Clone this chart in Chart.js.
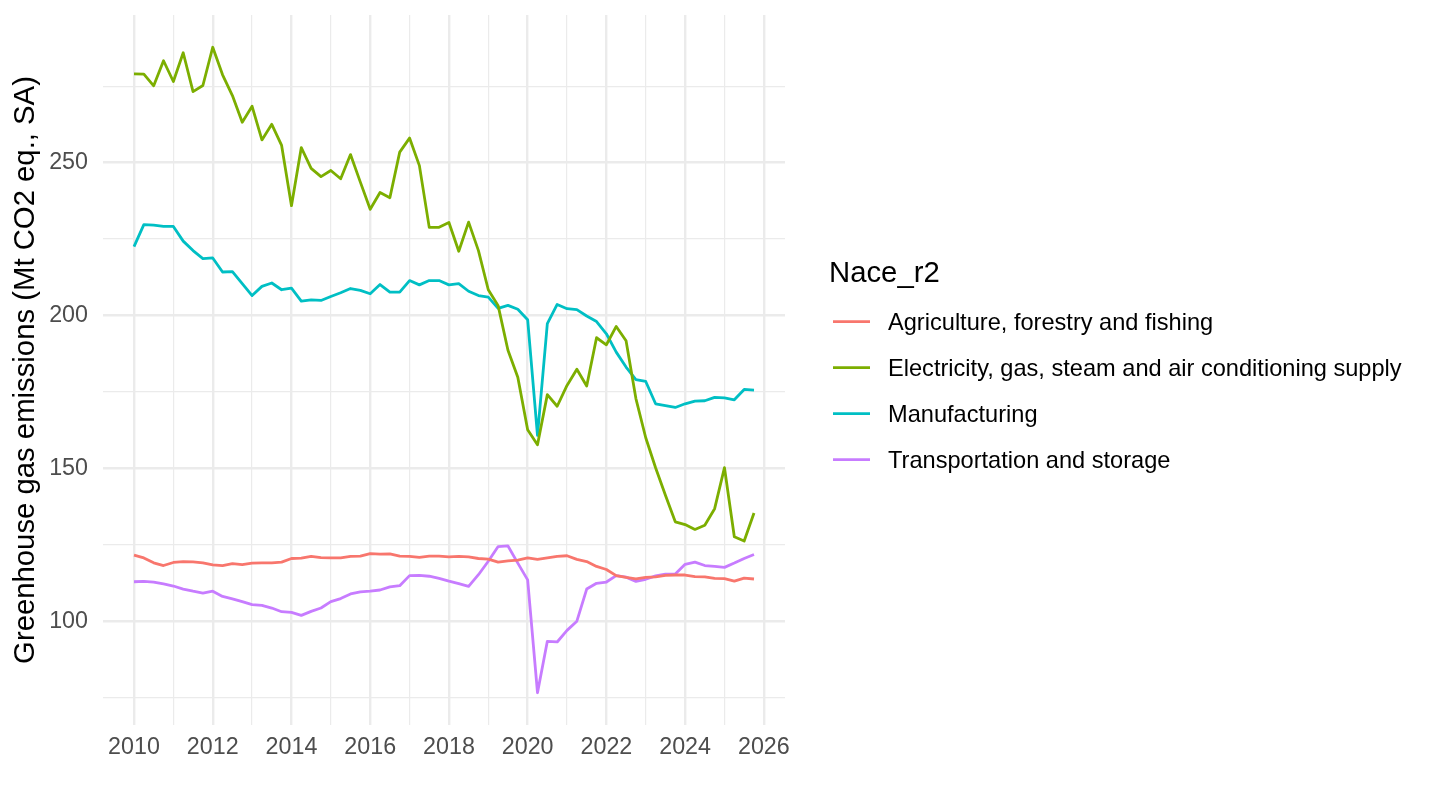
<!DOCTYPE html>
<html>
<head>
<meta charset="utf-8">
<script src="https://cdn.jsdelivr.net/npm/chart.js@4.4.1/dist/chart.umd.min.js"></script>
<style>
html,body{margin:0;padding:0;background:#ffffff;}
canvas{display:block;}
</style>
</head>
<body>
<canvas id="c" width="1440" height="810"></canvas>
<script>
const quarters = [
  "2010Q1","2010Q2","2010Q3","2010Q4","2011Q1","2011Q2","2011Q3","2011Q4",
  "2012Q1","2012Q2","2012Q3","2012Q4","2013Q1","2013Q2","2013Q3","2013Q4",
  "2014Q1","2014Q2","2014Q3","2014Q4","2015Q1","2015Q2","2015Q3","2015Q4",
  "2016Q1","2016Q2","2016Q3","2016Q4","2017Q1","2017Q2","2017Q3","2017Q4",
  "2018Q1","2018Q2","2018Q3","2018Q4","2019Q1","2019Q2","2019Q3","2019Q4",
  "2020Q1","2020Q2","2020Q3","2020Q4","2021Q1","2021Q2","2021Q3","2021Q4",
  "2022Q1","2022Q2","2022Q3","2022Q4","2023Q1","2023Q2","2023Q3","2023Q4",
  "2024Q1","2024Q2","2024Q3","2024Q4","2025Q1","2025Q2","2025Q3","2025Q4"
];

const agriculture = [
  121.6,120.7,119.1,118.2, 119.2,119.5,119.4,119.1,
  118.4,118.2,118.8,118.5, 119.0,119.1,119.1,119.3,
  120.5,120.6,121.2,120.8, 120.7,120.7,121.2,121.3,
  122.1,121.9,122.0,121.3, 121.2,120.9,121.3,121.3,
  121.0,121.2,121.0,120.5, 120.3,119.3,119.7,120.0,
  120.7,120.2,120.7,121.2, 121.4,120.2,119.5,117.9,
  116.9,114.9,114.3,113.8, 114.3,114.5,115.0,115.1,
  115.1,114.6,114.5,114.0, 113.9,113.1,114.1,113.8
];

const electricity = [
  279.0,278.9,275.1,283.3, 276.5,285.9,273.2,275.2,
  287.7,278.7,271.9,263.2, 268.4,257.4,262.5,255.6,
  235.9,254.9,248.1,245.4, 247.4,244.7,252.6,243.6,
  234.7,240.2,238.5,253.4, 258.0,249.0,228.8,228.8,
  230.4,221.0,230.5,221.2, 208.4,203.2,188.6,179.8,
  162.6,157.7,174.1,170.3, 177.1,182.4,176.9,192.7,
  190.4,196.4,191.7,172.8, 160.0,150.2,141.2,132.5,
  131.6,130.0,131.4,136.8, 150.2,127.6,126.2,135.4
];

const manufacturing = [
  222.5,229.7,229.5,229.1, 229.1,224.3,221.2,218.6,
  218.8,214.2,214.3,210.4, 206.5,209.5,210.6,208.4,
  208.9,204.7,205.1,204.9, 206.2,207.4,208.8,208.2,
  207.1,210.1,207.6,207.6, 211.4,210.0,211.4,211.4,
  210.0,210.4,207.9,206.5, 206.0,202.3,203.3,202.0,
  198.6,160.8,197.3,203.6, 202.2,201.9,199.8,198.0,
  194.0,188.0,183.1,179.0, 178.4,171.1,170.5,169.9,
  171.1,172.0,172.1,173.2, 173.0,172.4,175.8,175.6
];

const transportation = [
  112.9,113.0,112.8,112.2, 111.5,110.5,109.8,109.2,
  109.8,108.1,107.3,106.4, 105.4,105.2,104.3,103.1,
  102.9,101.9,103.2,104.3, 106.4,107.4,108.9,109.6,
  109.8,110.2,111.2,111.6, 114.9,115.0,114.7,114.0,
  113.1,112.3,111.4,115.2, 119.6,124.4,124.6,119.0,
  113.5,76.6,93.4,93.2, 97.0,100.0,110.5,112.4,
  112.8,114.9,114.4,113.0, 113.7,114.8,115.4,115.4,
  118.6,119.3,118.2,117.9, 117.6,119.0,120.5,121.8
];

const seriesNames = [
  "Agriculture, forestry and fishing",
  "Electricity, gas, steam and air conditioning supply",
  "Manufacturing",
  "Transportation and storage"
];
const seriesValues = [agriculture, electricity, manufacturing, transportation];
const seriesColors = ["#F8766D", "#7CAE00", "#00BFC4", "#C77CFF"];

const legendTitle = "Nace_r2";
const yTitle = "Greenhouse gas emissions (Mt CO2 eq., SA)";

const xTicks = [2010,2011,2012,2013,2014,2015,2016,2017,2018,2019,2020,2021,2022,2023,2024,2025,2026];
const xTickLabels = [2010,2012,2014,2016,2018,2020,2022,2024,2026];
const yTicks = [75,100,125,150,175,200,225,250,275];
const yTickLabels = [100,150,200,250];

const FONT = '"Liberation Sans", Arial, Helvetica, sans-serif';

function quarterToYear(q) {
  const y = parseInt(q.slice(0,4), 10);
  const n = parseInt(q.slice(5), 10);
  return y + (n - 1) / 4;
}
const xs = quarters.map(quarterToYear);

// ggplot-like 5% expansion of the data range
const allVals = [].concat(...seriesValues);
const xLo = Math.min(...xs), xHi = Math.max(...xs);
const yLo = Math.min(...allVals), yHi = Math.max(...allVals);
const xPad = (xHi - xLo) * 0.05, yPad = (yHi - yLo) * 0.05;

const datasets = seriesNames.map((name, i) => ({
  label: name,
  data: seriesValues[i].map((v, j) => ({ x: xs[j], y: v })),
  borderColor: seriesColors[i],
  backgroundColor: seriesColors[i],
  borderWidth: 2.8,
  pointRadius: 0,
  pointHoverRadius: 0,
  fill: false,
  tension: 0,
  borderJoinStyle: 'round',
  borderCapStyle: 'butt'
}));

const ggLegend = {
  id: 'ggLegend',
  afterDraw(chart) {
    const ctx = chart.ctx;
    ctx.save();
    ctx.fillStyle = '#000000';
    ctx.textAlign = 'left';
    ctx.textBaseline = 'alphabetic';
    ctx.font = '29.3px ' + FONT;
    ctx.fillText(legendTitle, 829, 282);
    chart.data.datasets.forEach((ds, i) => {
      const y = 321.7 + 46 * i;
      ctx.strokeStyle = ds.borderColor;
      ctx.lineWidth = 2.8;
      ctx.lineCap = 'butt';
      ctx.beginPath();
      ctx.moveTo(833, y);
      ctx.lineTo(870, y);
      ctx.stroke();
      ctx.font = '23.6px ' + FONT;
      ctx.textBaseline = 'middle';
      ctx.fillStyle = '#000000';
      ctx.fillText(ds.label, 888, y + 1.5);
    });
    ctx.restore();
  }
};

new Chart(document.getElementById('c'), {
  type: 'line',
  data: { datasets },
  plugins: [ggLegend],
  options: {
    responsive: false,
    animation: false,
    devicePixelRatio: 1,
    layout: { padding: { left: 0, right: 655, top: 15, bottom: 0 } },
    plugins: {
      legend: { display: false },
      tooltip: { enabled: false }
    },
    scales: {
      x: {
        type: 'linear',
        min: xLo - xPad,
        max: xHi + xPad,
        afterBuildTicks: (s) => { s.ticks = xTicks.map(v => ({ value: v })); },
        afterFit: (s) => { s.height = 85; s.paddingLeft = 0; s.paddingRight = 0; },
        border: { display: false },
        grid: {
          color: '#EBEBEB',
          drawTicks: false,
          lineWidth: (ctx) => (ctx.tick && xTickLabels.includes(ctx.tick.value)) ? 2.4 : 1.2
        },
        ticks: {
          autoSkip: false,
          maxRotation: 0,
          minRotation: 0,
          padding: 9,
          color: '#4D4D4D',
          font: { family: FONT, size: 23.3 },
          callback: (v) => xTickLabels.includes(v) ? String(v) : ''
        }
      },
      y: {
        type: 'linear',
        min: yLo - yPad,
        max: yHi + yPad,
        afterBuildTicks: (s) => { s.ticks = yTicks.map(v => ({ value: v })); },
        afterFit: (s) => { s.width = 103; s.paddingTop = 0; s.paddingBottom = 0; },
        border: { display: false },
        grid: {
          color: '#EBEBEB',
          drawTicks: false,
          lineWidth: (ctx) => (ctx.tick && yTickLabels.includes(ctx.tick.value)) ? 2.4 : 1.2
        },
        ticks: {
          autoSkip: false,
          padding: 15,
          color: '#4D4D4D',
          font: { family: FONT, size: 23.3 },
          callback: (v) => yTickLabels.includes(v) ? String(v) : ''
        },
        title: {
          display: true,
          text: yTitle,
          color: '#000000',
          font: { family: FONT, size: 29.3, lineHeight: 1 },
          padding: { top: 11.5, bottom: 0 }
        }
      }
    }
  }
});
</script>
</body>
</html>
